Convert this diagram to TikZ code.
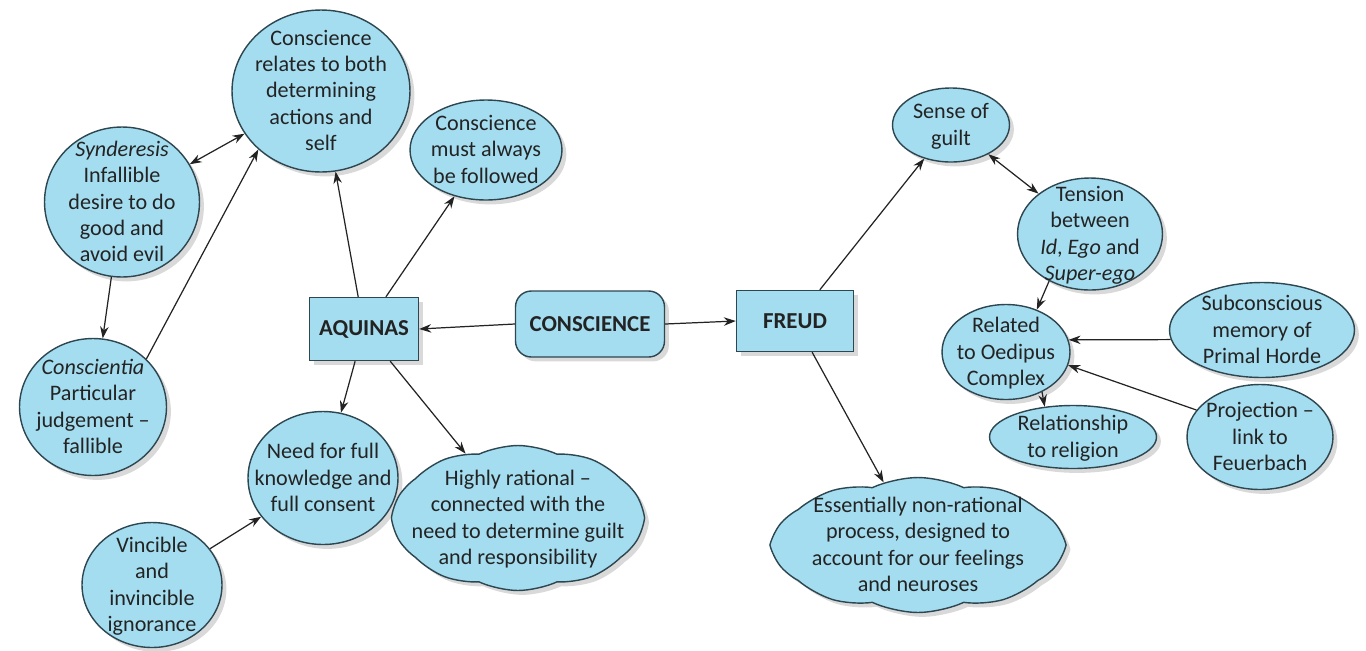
\documentclass[tikz,border=0pt]{standalone}
\usepackage{fontspec}
\setmainfont{Carlito}
\usetikzlibrary{shapes.geometric,shapes.symbols,arrows.meta,shadows}

\definecolor{bubble}{RGB}{164,221,240}
\definecolor{rim}{RGB}{45,70,80}
\definecolor{ink}{RGB}{35,35,35}

% centred lines that do not size the node
\newcommand{\txt}[1]{\makebox[0pt]{\smash{\raisebox{-4pt}{\begin{tabular}{@{}c@{}}#1\end{tabular}}}}}

\begin{document}
\begin{tikzpicture}[x=0.02cm, y=-0.02cm,
    base/.style={draw=rim, fill=bubble, line width=0.8pt, text=ink, inner sep=0pt,
      font=\fontsize{12.6}{14.9}\selectfont,
      drop shadow={opacity=0.3, shadow xshift=2.5pt, shadow yshift=-2.5pt}},
    bub/.style={base, ellipse},
    boxed/.style={base, rectangle, font=\fontsize{13}{15}\selectfont\bfseries},
    puff/.style={base, cloud, cloud puffs=10, cloud puff arc=50},
    link/.style={draw=ink, line width=0.7pt, -{Stealth[length=2.4mm, width=1.7mm]}},
    both/.style={link, {Stealth[length=2.4mm, width=1.7mm]}-{Stealth[length=2.4mm, width=1.7mm]}}]
  \useasboundingbox (0,0) rectangle (1366,650);

  % centre
  \node[boxed, rounded corners=9pt, minimum width=2.98cm, minimum height=1.32cm] (cons) at (590,324) {CONSCIENCE};
  \node[boxed, minimum width=2.18cm, minimum height=1.26cm] (aq) at (364,329) {AQUINAS};
  \node[boxed, minimum width=2.34cm, minimum height=1.22cm] (fr) at (795,321) {FREUD};

  % Aquinas side
  \node[bub, minimum width=3.56cm, minimum height=3.24cm] (relates) at (321,91) {\txt{Conscience\\relates to both\\determining\\actions and\\self}};
  \node[bub, minimum width=3.04cm, minimum height=2.0cm] (follow) at (486,150) {\txt{Conscience\\must always\\be followed}};
  \node[bub, minimum width=3.1cm, minimum height=3.0cm] (synd) at (122,202) {\txt{\emph{Synderesis}\\Infallible\\desire to do\\good and\\avoid evil}};
  \node[bub, minimum width=2.94cm, minimum height=2.74cm] (consc) at (93,407) {\txt{\emph{Conscientia}\\Particular\\judgement --\\fallible}};
  \node[bub, minimum width=3.0cm, minimum height=2.66cm] (need) at (323,478) {\txt{Need for full\\knowledge and\\full consent}};
  \node[bub, minimum width=2.8cm, minimum height=2.5cm] (vinc) at (152,585) {\txt{Vincible\\and\\invincible\\ignorance}};
  \node[puff, minimum width=5.0cm, minimum height=2.9cm] (rational) at (518,518) {\txt{Highly rational --\\connected with the\\need to determine guilt\\and responsibility}};

  % Freud side
  \node[bub, minimum width=2.34cm, minimum height=1.48cm] (guilt) at (951,125) {\txt{Sense of\\guilt}};
  \node[bub, minimum width=2.9cm, minimum height=2.24cm] (tension) at (1090,234) {\txt{Tension\\between\\\emph{Id}, \emph{Ego} and\\\emph{Super-ego}}};
  \node[bub, minimum width=3.34cm, minimum height=1.26cm] (religion) at (1073,437) {\txt{Relationship\\to religion}};
  \node[bub, minimum width=2.56cm, minimum height=1.9cm] (oedipus) at (1006,352) {\txt{Related\\to Oedipus\\Complex}};
  \node[bub, minimum width=3.7cm, minimum height=1.9cm] (subcon) at (1262,330) {\txt{Subconscious\\memory of\\Primal Horde}};
  \node[bub, minimum width=2.92cm, minimum height=2.1cm] (proj) at (1260,437) {\txt{Projection --\\link to\\Feuerbach}};
  \node[puff, minimum width=5.8cm, minimum height=2.7cm] (nonrat) at (918,545) {\txt{Essentially non-rational\\process, designed to\\account for our feelings\\and neuroses}};

  % links
  \draw[link] (cons.west) -- (aq.east);
  \draw[link] (cons.east) -- (fr.west);
  \draw[link] (aq) -- (relates);
  \draw[link] (aq) -- (follow);
  \draw[link] (aq) -- (need);
  \draw[link] (aq) -- (rational);
  \draw[both] (synd) -- (relates);
  \draw[link] (synd) -- (consc);
  \draw[link] (consc.42) -- (relates.223);
  \draw[link] (vinc) -- (need);
  \draw[link] (fr) -- (guilt);
  \draw[link] (fr) -- (nonrat);
  \draw[both] (guilt) -- (tension);
  \draw[link] (tension.229) -- (oedipus.54);
  \draw[link] (subcon.186) -- (oedipus.11);
  \draw[link] (proj.157) -- (oedipus.348);
  \draw[link] (oedipus.312) -- (religion.133);
\end{tikzpicture}
\end{document}
